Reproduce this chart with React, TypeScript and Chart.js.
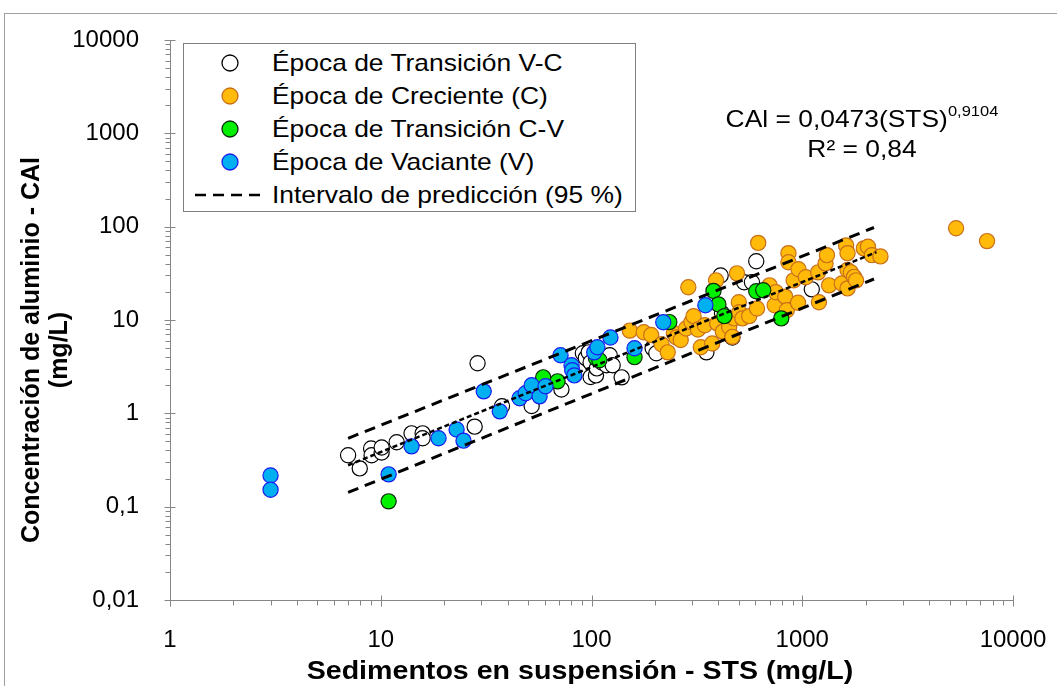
import React, { useEffect, useRef } from "react";
import { Chart, registerables } from "chart.js";

Chart.register(...registerables);

// Época de Transición V-C (white)
const vcX = [7.0, 7.95, 9.0, 9.05, 10.1, 10.1, 11.9, 14, 15.8, 15.8, 27.9, 28.8, 37.6, 52, 72, 91, 94, 97, 99, 99, 105, 106, 112, 118, 122, 126, 139, 195, 203, 351, 410, 416, 436, 466, 530, 577, 605, 1110];
const vcY = [0.355, 0.257, 0.42, 0.355, 0.38, 0.43, 0.49, 0.61, 0.61, 0.54, 0.72, 3.44, 1.19, 1.2, 1.8, 4.4, 3.9, 4.5, 2.45, 3.5, 2.55, 3.03, 3.5, 3.27, 4.19, 3.27, 2.43, 5.0, 4.4, 4.5, 30, 11.8, 7.2, 6.5, 25.4, 25.4, 42.6, 21.3];

// Época de Creciente (C) (orange)
const cX = [152, 177, 192, 215, 230, 246, 253, 265, 281, 288, 298, 305, 320, 330, 345, 374, 390, 395, 420, 450, 466, 475, 490, 500, 503, 520, 560, 610, 618, 700, 740, 750, 830, 845, 860, 860, 910, 955, 960, 1040, 1190, 1200, 1290, 1310, 1340, 1540, 1615, 1640, 1640, 1640, 1700, 1760, 1800, 1960, 2050, 2140, 2350, 5370, 7530];
const cY = [7.7, 7.4, 6.9, 5.5, 4.5, 7.2, 6.5, 6.1, 8.1, 22.4, 9.5, 11, 7.9, 5.1, 8.8, 5.6, 26.6, 9.2, 7.5, 8.4, 6.6, 10.4, 31.6, 15.5, 12.1, 10.4, 11, 13.3, 67, 23.5, 14.4, 19.8, 17.8, 12.7, 52, 41.6, 26.6, 15.3, 35, 28.7, 32.4, 15.5, 40.4, 49.5, 23.5, 24.6, 63, 52, 34.3, 21.8, 32.4, 29, 26.6, 58.5, 61, 49.5, 48, 96, 70];

// Época de Transición C-V (green)
const cvX = [10.9, 59, 69, 105, 109, 160, 234, 379, 400, 427, 605, 653, 795];
const cvY = [0.114, 2.43, 2.2, 3.9, 3.7, 4.0, 9.5, 20.5, 14.7, 11, 20.3, 20.8, 10.4];

// Época de Vaciante (V) (blue)
const vX = [3, 3, 10.9, 14.0, 18.8, 22.9, 24.7, 30.8, 36.7, 45.6, 48.7, 52, 56.7, 60.5, 71.3, 80.4, 81, 82.9, 103, 106.7, 123, 160, 219, 347];
const vY = [0.216, 0.152, 0.222, 0.443, 0.54, 0.67, 0.51, 1.72, 1.05, 1.45, 1.64, 2.0, 1.52, 1.95, 4.19, 3.27, 2.89, 2.55, 4.5, 5.1, 6.5, 4.98, 9.45, 14.4];

// fitted line and 95 % prediction interval (endpoints)
const fitX = [7, 2250];
const fitY = [0.278, 53.3];
const upX = [7, 2190];
const upY = [0.54, 98];
const loX = [7, 2190];
const loY = [0.142, 27.5];

// axes
const xMajor = [1, 10, 100, 1000, 10000];
const xLabels = ["1", "10", "100", "1000", "10000"];
const yMajor = [0.01, 0.1, 1, 10, 100, 1000, 10000];
const yLabels = ["0,01", "0,1", "1", "10", "100", "1000", "10000"];

const legendLabels = [
  "Época de Transición V-C",
  "Época de Creciente (C)",
  "Época de Transición C-V",
  "Época de Vaciante (V)",
  "Intervalo de predicción (95 %)",
];

const FONT = "'Liberation Sans', Arial, sans-serif";

const pts = (xs: number[], ys: number[]) => xs.map((x, i) => ({ x, y: ys[i] }));

const findMajor = (v: number, majors: number[]) =>
  majors.findIndex((m) => Math.abs(Math.log10(v) - Math.log10(m)) < 1e-6);

const axisPlugin = {
  id: "excelAxes",
  beforeDatasetsDraw(chart: any) {
    const { ctx, chartArea: a, scales } = chart;
    const xs = scales.x;
    const ys = scales.y;
    ctx.save();
    ctx.strokeStyle = "#868686";
    ctx.lineWidth = 1;
    ctx.beginPath();
    const L = Math.round(a.left) + 0.5;
    const B = Math.round(a.bottom) + 0.5;
    ctx.moveTo(L, a.top);
    ctx.lineTo(L, B);
    ctx.lineTo(a.right, B);
    xMajor.forEach((m, i) => {
      const px = Math.round(xs.getPixelForValue(m)) + 0.5;
      ctx.moveTo(px, B - 5);
      ctx.lineTo(px, B + 6);
      if (i < xMajor.length - 1) {
        for (let k = 2; k <= 9; k++) {
          const q = Math.round(xs.getPixelForValue(m * k)) + 0.5;
          ctx.moveTo(q, B);
          ctx.lineTo(q, B + 5);
        }
      }
    });
    yMajor.forEach((m, i) => {
      const py = Math.round(ys.getPixelForValue(m)) + 0.5;
      ctx.moveTo(L + 5, py);
      ctx.lineTo(L - 6, py);
      if (i < yMajor.length - 1) {
        for (let k = 2; k <= 9; k++) {
          const q = Math.round(ys.getPixelForValue(m * k)) + 0.5;
          ctx.moveTo(L, q);
          ctx.lineTo(L - 5, q);
        }
      }
    });
    ctx.stroke();
    ctx.restore();
  },
};

function LegendMarker({ fill, stroke }: { fill: string; stroke: string }) {
  return (
    <svg width="20" height="20" style={{ position: "absolute", left: 36, top: -10 }}>
      <circle cx="10" cy="10" r="8" fill={fill} stroke={stroke} strokeWidth="1.3" />
    </svg>
  );
}

export default function App() {
  const ref = useRef<HTMLCanvasElement | null>(null);

  useEffect(() => {
    if (!ref.current) return;
    const pointDs = (label: string, data: any[], fill: string, stroke: string, order: number) => ({
      label,
      data,
      backgroundColor: fill,
      borderColor: stroke,
      borderWidth: 1.2,
      pointRadius: 7.6,
      pointHoverRadius: 7.6,
      showLine: false,
      order,
    });
    const lineDs = (label: string, data: any[], dash: number[], width: number) => ({
      label,
      data,
      borderColor: "#000000",
      backgroundColor: "#000000",
      borderWidth: width,
      borderDash: dash,
      pointRadius: 0,
      showLine: true,
      fill: false,
      order: 0,
    });
    const chart = new Chart(ref.current, {
      type: "scatter",
      data: {
        datasets: [
          pointDs(legendLabels[0], pts(vcX, vcY), "#FFFFFF", "#000000", 4),
          pointDs(legendLabels[1], pts(cX, cY), "#FFBA0A", "#C96F1A", 3),
          pointDs(legendLabels[2], pts(cvX, cvY), "#00F000", "#0A2A0A", 2),
          pointDs(legendLabels[3], pts(vX, vY), "#00B0F0", "#1A1AF0", 1),
          lineDs(legendLabels[4], pts(upX, upY), [11, 7], 3),
          lineDs("Límite inferior", pts(loX, loY), [11, 7], 3),
          lineDs("Ajuste", pts(fitX, fitY), [5, 3], 2.5),
        ] as any,
      },
      options: {
        animation: false,
        responsive: false,
        maintainAspectRatio: false,
        layout: { padding: { left: 0, top: 40, right: 44, bottom: 0 } },
        plugins: { legend: { display: false }, tooltip: { enabled: false } },
        scales: {
          x: {
            type: "logarithmic",
            min: 1,
            max: 10000,
            grid: { display: false },
            border: { display: false },
            ticks: {
              autoSkip: false,
              maxRotation: 0,
              minRotation: 0,
              padding: 18,
              color: "#000000",
              font: { family: FONT, size: 24 },
              callback: (v: any) => {
                const i = findMajor(Number(v), xMajor);
                return i >= 0 ? xLabels[i] : "";
              },
            },
            afterFit: (s: any) => {
              s.height = 86;
              s.paddingLeft = 0;
              s.paddingRight = 0;
            },
          },
          y: {
            type: "logarithmic",
            min: 0.01,
            max: 10000,
            grid: { display: false },
            border: { display: false },
            ticks: {
              autoSkip: false,
              padding: 23,
              color: "#000000",
              font: { family: FONT, size: 24 },
              callback: (v: any) => {
                const i = findMajor(Number(v), yMajor);
                return i >= 0 ? yLabels[i] : "";
              },
            },
            afterFit: (s: any) => {
              s.width = 170;
              s.paddingTop = 0;
              s.paddingBottom = 0;
            },
          },
        },
      } as any,
      plugins: [axisPlugin],
    });
    return () => chart.destroy();
  }, []);

  const markerStyles = [
    { fill: "#FFFFFF", stroke: "#000000" },
    { fill: "#FFBA0A", stroke: "#C96F1A" },
    { fill: "#00F000", stroke: "#0A2A0A" },
    { fill: "#00B0F0", stroke: "#1A1AF0" },
  ];

  const textStretch: React.CSSProperties = {
    display: "inline-block",
    transform: "scaleX(1.1)",
    transformOrigin: "left center",
    whiteSpace: "nowrap",
  };

  return (
    <div style={{ position: "absolute", left: 0, top: 0, width: 1057, height: 686, overflow: "hidden", background: "#fff", fontFamily: FONT }}>
      <div style={{ position: "absolute", left: 4, top: 13, width: 1100, height: 700, border: "1px solid #A0A0A0" }} />
      <canvas ref={ref} width={1057} height={686} style={{ position: "absolute", left: 0, top: 0, display: "block" }} />

      {/* legend */}
      <div style={{ position: "absolute", left: 183, top: 43, width: 451, height: 167, border: "1.5px solid #7F7F7F", background: "#fff" }}>
        {legendLabels.map((t, i) => (
          <div key={t} style={{ position: "absolute", left: 0, top: 19 + i * 33, height: 0 }}>
            {i < 4 ? (
              <LegendMarker fill={markerStyles[i].fill} stroke={markerStyles[i].stroke} />
            ) : (
              <svg width="70" height="6" style={{ position: "absolute", left: 11, top: -3 }}>
                <line x1="0" y1="3" x2="68" y2="3" stroke="#000" strokeWidth="2.5" strokeDasharray="11 7" />
              </svg>
            )}
            <span style={{ ...textStretch, position: "absolute", left: 88, top: -15, fontSize: 24, lineHeight: "30px", color: "#000" }}>{t}</span>
          </div>
        ))}
      </div>

      {/* equation */}
      <div style={{ position: "absolute", left: 662, top: 104, width: 400, textAlign: "center", fontSize: 24, lineHeight: "30px", color: "#000", transform: "scaleX(1.1)", transformOrigin: "center" }}>
        <div style={{ whiteSpace: "nowrap" }}>
          CAl = 0,0473(STS)<sup style={{ fontSize: 15, verticalAlign: "top", lineHeight: "14px" }}>0,9104</sup>
        </div>
        <div style={{ whiteSpace: "nowrap" }}>R² = 0,84</div>
      </div>

      {/* x title */}
      <div style={{ position: "absolute", left: 580 - 400, top: 654, width: 800, textAlign: "center", fontSize: 26, fontWeight: "bold", lineHeight: "32px", color: "#000", transform: "scaleX(1.1)", transformOrigin: "center", whiteSpace: "nowrap" }}>
        Sedimentos en suspensión - STS (mg/L)
      </div>

      {/* y title */}
      <div style={{ position: "absolute", left: 44 - 250, top: 350 - 28, width: 500, height: 56, textAlign: "center", fontSize: 25, fontWeight: "bold", lineHeight: "28px", color: "#000", transform: "rotate(-90deg)", transformOrigin: "center", whiteSpace: "nowrap" }}>
        <div>Concentración de aluminio - CAl</div>
        <div>(mg/L)</div>
      </div>
    </div>
  );
}
